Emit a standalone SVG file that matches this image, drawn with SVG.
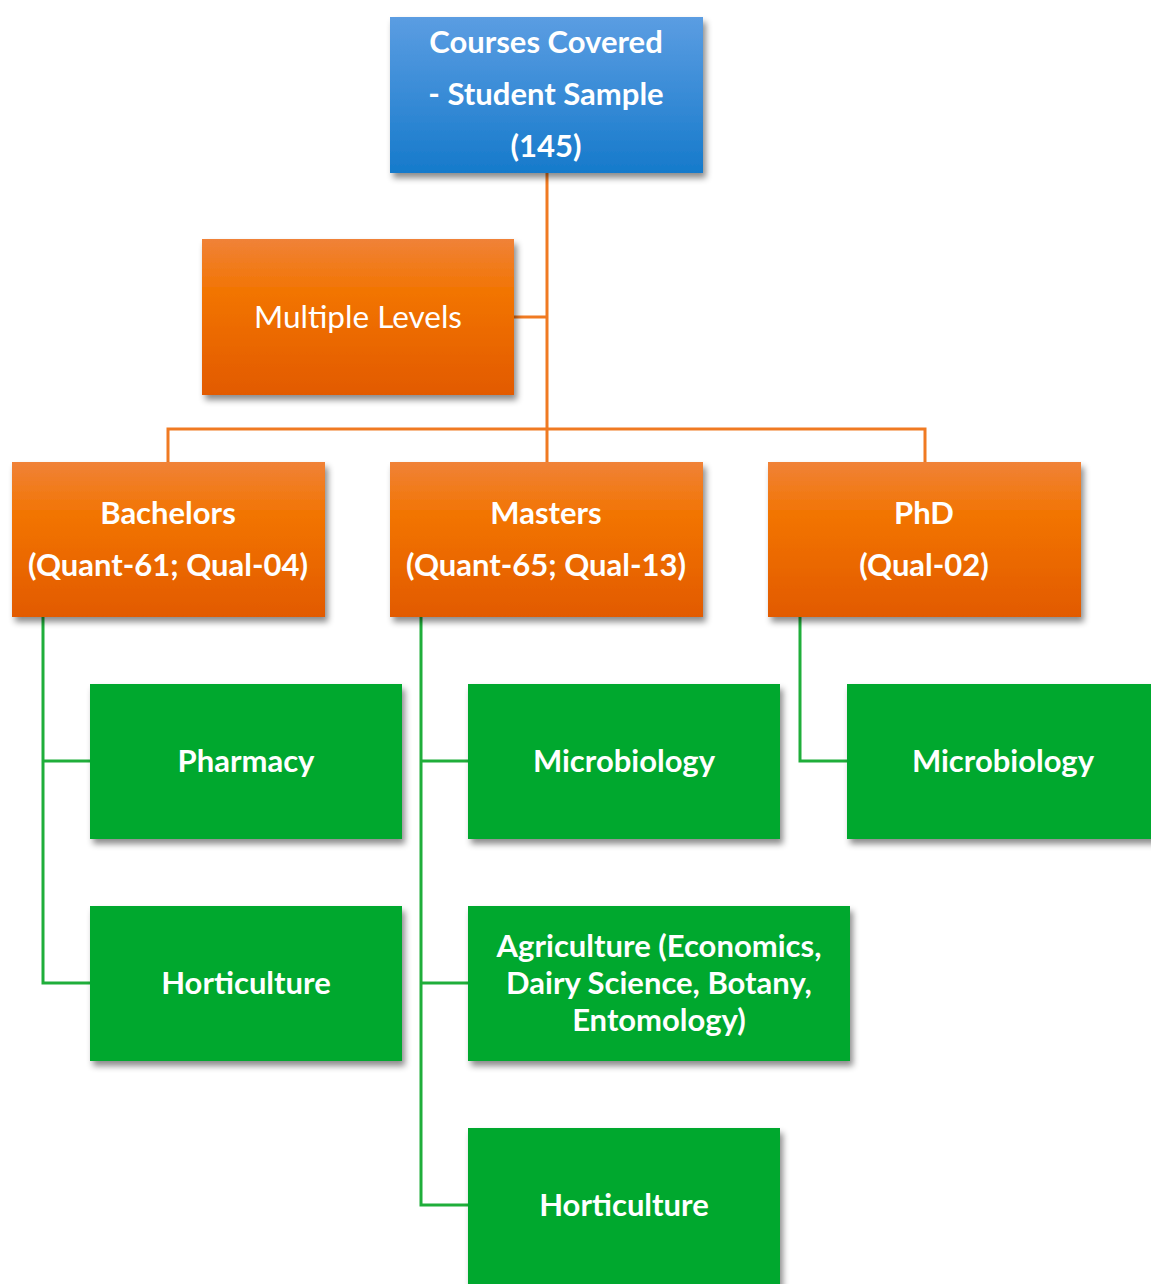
<svg xmlns="http://www.w3.org/2000/svg" width="1151" height="1284" viewBox="0 0 1151 1284">
<defs>
<linearGradient id="gBlue" x1="0" y1="0" x2="0" y2="1">
<stop offset="0" stop-color="#5b9de2"/>
<stop offset="1" stop-color="#167acb"/>
</linearGradient>
<linearGradient id="gOrange" x1="0" y1="0" x2="0" y2="1">
<stop offset="0" stop-color="#f08238"/>
<stop offset="0.35" stop-color="#f27400"/>
<stop offset="1" stop-color="#e25a04"/>
</linearGradient>
<filter id="sh" x="-10%" y="-10%" width="125%" height="130%">
<feDropShadow dx="3" dy="5" stdDeviation="3" flood-color="#000" flood-opacity="0.45"/>
</filter>
</defs>
<style>
.blue{fill:url(#gBlue);filter:url(#sh)}
.orange{fill:url(#gOrange);filter:url(#sh)}
.green{fill:#00a82d;filter:url(#sh)}
text{font-family:Lato,"Open Sans","Liberation Sans",sans-serif;fill:#fff;text-anchor:middle}
.b{font-weight:bold;font-size:31px}
.r{font-size:31.5px}
.oc{stroke:#f07a22;stroke-width:3;fill:none}
.gc{stroke:#1fae3a;stroke-width:3;fill:none}
</style>
<g id="connectors">
<path class="oc" d="M547 173 V430 M514 317 H547 M168 462 V429 H925 V462 M547 430 V462"/>
<path class="gc" d="M43 617 V983 H90 M43 761 H90"/>
<path class="gc" d="M421 617 V1205 H468 M421 761 H468 M421 983 H468"/>
<path class="gc" d="M800 617 V761 H847"/>
</g>
<g id="root">
<rect class="blue" x="390" y="17" width="313" height="156"/>
<text class="b" x="546" y="53">Courses Covered</text>
<text class="b" x="546" y="105">- Student Sample</text>
<text class="b" x="546" y="157">(145)</text>
</g>
<g id="multiple-levels">
<rect class="orange" x="202" y="239" width="312" height="156"/>
<text class="r" x="358" y="328">Multiple Levels</text>
</g>
<g id="bachelors">
<rect class="orange" x="12" y="462" width="313" height="155"/>
<text class="b" x="168" y="524">Bachelors</text>
<text class="b" x="168" y="576">(Quant-61; Qual-04)</text>
</g>
<g id="masters">
<rect class="orange" x="390" y="462" width="313" height="155"/>
<text class="b" x="546" y="524">Masters</text>
<text class="b" x="546" y="576">(Quant-65; Qual-13)</text>
</g>
<g id="phd">
<rect class="orange" x="768" y="462" width="313" height="155"/>
<text class="b" x="924" y="524">PhD</text>
<text class="b" x="924" y="576">(Qual-02)</text>
</g>
<g id="pharmacy">
<rect class="green" x="90" y="684" width="312" height="155"/>
<text class="b" x="246" y="772">Pharmacy</text>
</g>
<g id="horticulture-b">
<rect class="green" x="90" y="906" width="312" height="155"/>
<text class="b" x="246" y="994">Horticulture</text>
</g>
<g id="microbiology-m">
<rect class="green" x="468" y="684" width="312" height="155"/>
<text class="b" x="624" y="772">Microbiology</text>
</g>
<g id="agriculture">
<rect class="green" x="468" y="906" width="382" height="155"/>
<text class="b" x="659" y="957">Agriculture (Economics,</text>
<text class="b" x="659" y="994">Dairy Science, Botany,</text>
<text class="b" x="659" y="1031">Entomology)</text>
</g>
<g id="horticulture-m">
<rect class="green" x="468" y="1128" width="312" height="170"/>
<text class="b" x="624" y="1216">Horticulture</text>
</g>
<g id="microbiology-phd">
<rect class="green" x="847" y="684" width="310" height="155"/>
<text class="b" x="1003" y="772">Microbiology</text>
</g>
</svg>
